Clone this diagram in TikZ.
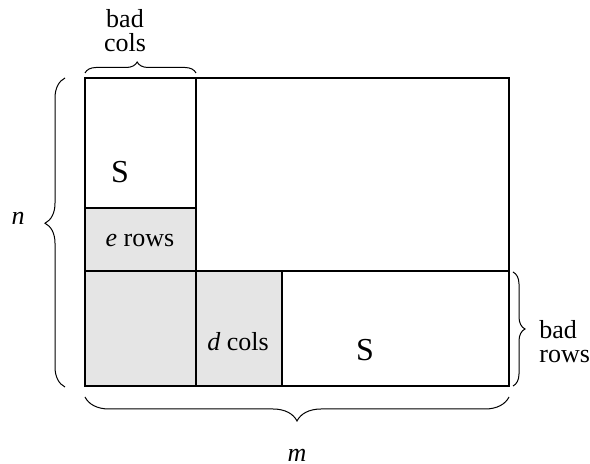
\documentclass[tikz,border=0pt]{standalone}
\usepackage{fontspec}
\setmainfont{Liberation Serif}
\usetikzlibrary{positioning,decorations.pathreplacing}

\begin{document}
\begin{tikzpicture}[x=0.5pt,y=-0.5pt,
    blk/.style={draw,line width=0.6pt},
    gry/.style={fill=black!10},
    brc/.style={decorate,line width=0.5pt,decoration={brace,amplitude=#1}},
    lbl/.style={font=\fontsize{13}{12}\selectfont,align=center,inner sep=0pt},
    big/.style={font=\fontsize{16}{18}\selectfont,inner sep=0pt}]
\useasboundingbox (0,0) rectangle (590,464);

% shaded blocks
\fill[gry] (85,208) rectangle (196,271);
\fill[gry] (85,271) rectangle (282,386);

% the matrix and its cuts
\draw[blk] (85,78) rectangle (509,386);
\draw[blk] (196,78) -- (196,386);
\draw[blk] (85,208) -- (196,208);
\draw[blk] (85,271) -- (509,271);
\draw[blk] (282,271) -- (282,386);

\node[big] (s1) at (120,172) {S};
\node[big] (s2) at (365,350) {S};
\node[lbl] (erows) at (140,241) {\textit{e} rows};
\node[lbl] (dcols) at (238,342) {\textit{d} cols};

% braces
\draw[brc=5.5pt,decoration={aspect=0.47}] (85,73) -- (196,73);
\draw[brc=10pt,decoration={aspect=0.53}] (65,387) -- (65,78);
\draw[brc=6pt] (513,272) -- (513,386);
\draw[brc=12pt] (509,397) -- (85,397);

\node[lbl] (badcols) at (125,31) {bad\\cols};
\node[lbl,align=left,anchor=west] (badrows) at (539,342) {bad\\rows};
\node[lbl] (n) at (18,218) {\textit{n}};
\node[lbl] (m) at (297,455) {\textit{m}};
\end{tikzpicture}
\end{document}
